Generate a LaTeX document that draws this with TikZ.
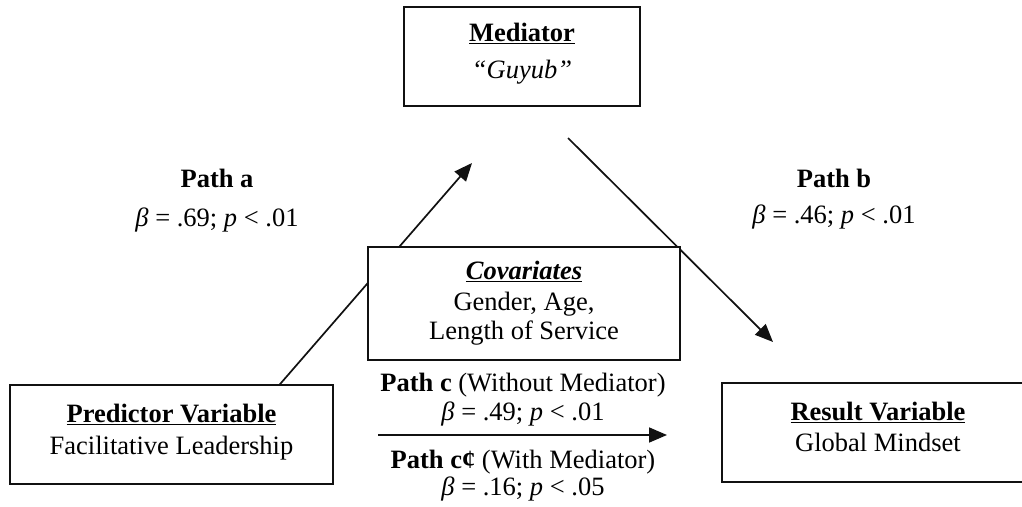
\documentclass[tikz,border=0pt]{standalone}
\usepackage{fontspec}
\setmainfont{Liberation Serif}
\usepackage{tikz}
\usetikzlibrary{positioning, arrows.meta, calc}
\definecolor{Ink}{HTML}{111111}

\tikzset{
  varbox/.style={draw=Ink, fill=white, line width=1.7pt, align=center, inner sep=0pt,
    font=\fontsize{26.5}{31}\selectfont},
  pathlbl/.style={align=center, inner sep=0pt, font=\fontsize{26.5}{31}\selectfont},
  patharr/.style={draw=Ink, line width=1.7pt, -{Triangle[length=18pt,width=15pt]}}
}
\newcommand{\bet}{{\itshape β}}
\newcommand{\pee}{{\itshape p}}

\begin{document}
\begin{tikzpicture}[x=1pt,y=-1pt]
      \useasboundingbox (0,0) rectangle (1022,506);
      \coordinate (a0) at (268,398);
      \coordinate (a1) at (472,163);
      \coordinate (b0) at (568,138);
      \coordinate (b1) at (773,342);
      \coordinate (c0) at (378,435);
      \coordinate (c1) at (667,435);
      \draw[patharr] (a0) -- (a1);
      \draw[patharr] (b0) -- (b1);
      \draw[patharr] (c0) -- (c1);
      \node[varbox, minimum width=236pt, minimum height=99pt] (med) at (522,56.5)
        {\textbf{\underline{Mediator}}\\[6pt] \textit{“Guyub”}\\[-20pt]\mbox{}};
      \node[varbox, minimum width=312pt, minimum height=113pt] (cov) at (524,303.5)
        {\textbf{\textit{\underline{Covariates}}}\\ Gender, Age,\\[-2pt] Length of Service};
      \node[varbox, minimum width=323pt, minimum height=99pt] (pred) at (171.5,434.5)
        {\textbf{\underline{Predictor Variable}}\\[1pt] Facilitative Leadership\\[-20pt]\mbox{}};
      \begin{scope}
        \clip (0,0) rectangle (1022,506);
        \node[varbox, minimum width=312pt, minimum height=99pt] (res) at (878,432.5)
          {\textbf{\underline{Result Variable}}\\ Global Mindset\\[-20pt]\mbox{}};
      \end{scope}
      \node[pathlbl] (pa) at (217,201) {\textbf{Path a}\\[8pt] \bet{} = .69; \pee{} < .01};
      \node[pathlbl] (pb) at (834,199.5) {\textbf{Path b}\\[5pt] \bet{} = .46; \pee{} < .01};
      \node[pathlbl] (pc) at (523,400) {\textbf{Path c} (Without Mediator)\\[-2pt] \bet{} = .49; \pee{} < .01};
      \node[pathlbl] (pc2) at (523,476) {\textbf{Path c¢} (With Mediator)\\[-4pt] \bet{} = .16; \pee{} < .05};
    \end{tikzpicture}
\end{document}
